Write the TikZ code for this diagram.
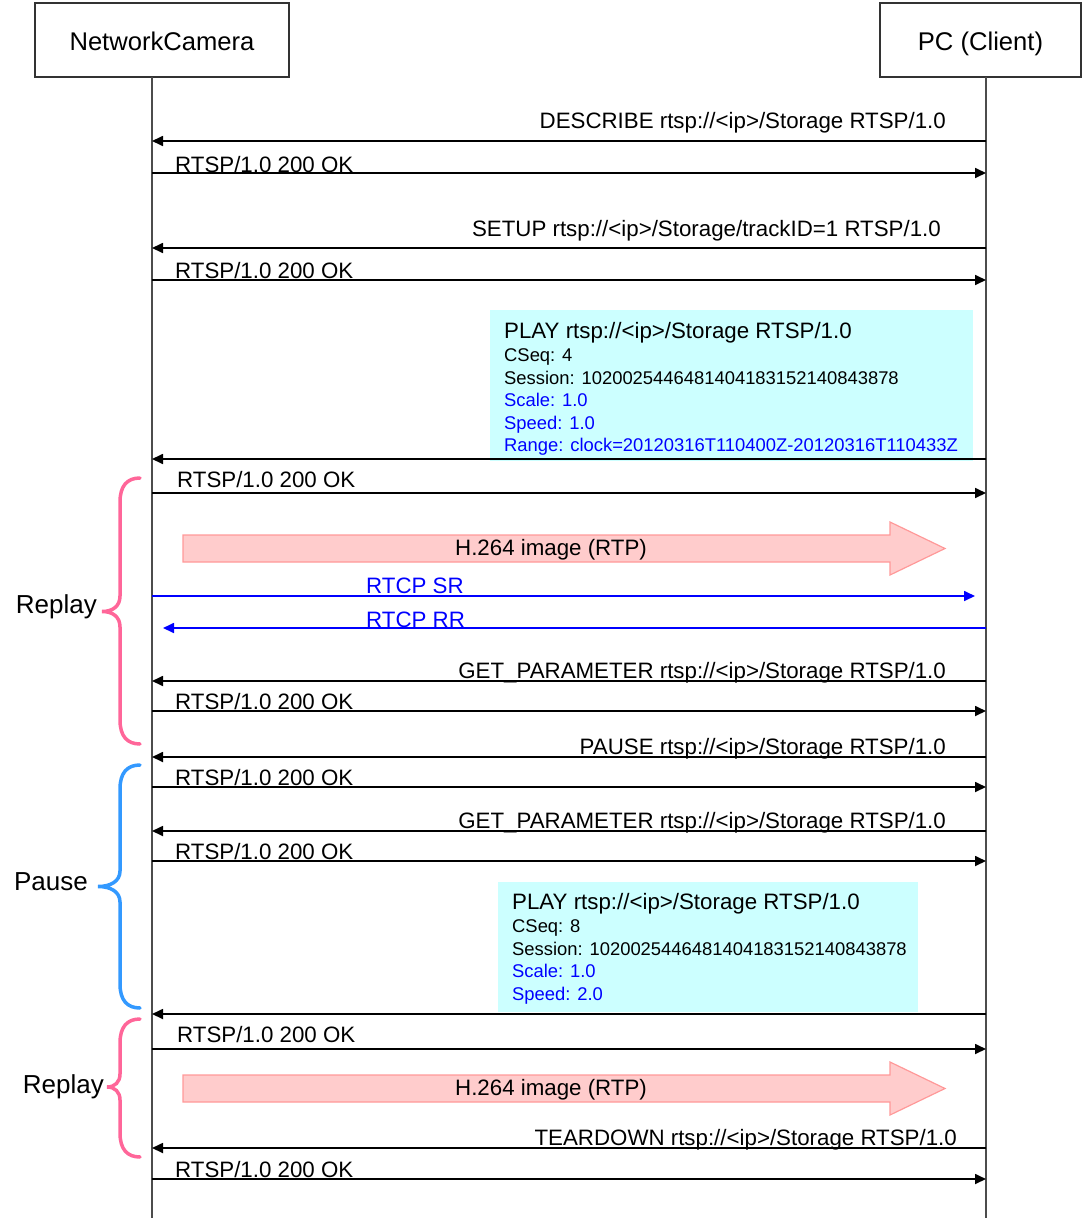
\documentclass[tikz,border=0pt]{standalone}
\usepackage{fontspec}
\setmainfont{Liberation Sans}
\usetikzlibrary{arrows.meta,positioning}
\definecolor{playcyan}{HTML}{CCFFFF}
\definecolor{rtpfill}{HTML}{FFCCCC}
\definecolor{rtpline}{HTML}{FF9999}
\definecolor{replaypink}{HTML}{FF6699}
\definecolor{pauseblue}{HTML}{3399FF}

\begin{document}
\begin{tikzpicture}[x=1pt, y=-1pt, >={Triangle[length=11pt,width=10pt]},
  actor/.style={draw=black!80, line width=1.2pt, minimum height=74pt, inner sep=0pt, text height=25pt, text depth=5pt, font=\fontsize{25.6}{30}\selectfont},
  life/.style={draw=black!70, line width=2pt},
  msg/.style={line width=1.7pt},
  rtcp/.style={line width=1.7pt, draw=blue},
  lbl/.style={inner sep=0pt, font=\fontsize{22.3}{26}\selectfont},
  playbox/.style={fill=playcyan, inner sep=0pt, anchor=north west},
  playtxt/.style={inner sep=0pt, anchor=north west, align=left, font=\fontsize{18.4}{22.6}\selectfont},
  rtp/.style={fill=rtpfill, draw=rtpline, line width=1.2pt},
  phase/.style={line width=3.5pt, line cap=round},
  phaselbl/.style={inner sep=0pt, anchor=base east, font=\fontsize{26}{30}\selectfont}]
\useasboundingbox (0,0) rectangle (1082,1218);

% actors and lifelines
\node[actor, minimum width=254pt] (cam) at (162,40) {NetworkCamera};
\node[actor, minimum width=201pt] (pc) at (980.5,40) {PC (Client)};
\coordinate (camline) at (152,77); \coordinate (camend) at (152,1218);
\coordinate (pcline) at (986,77); \coordinate (pcend) at (986,1218);
\draw[life] (camline) -- (camend); \draw[life] (pcline) -- (pcend);

% play requests with headers
\node[playbox, minimum width=483pt, minimum height=151pt] (play1) at (490,310) {};
\node[playtxt] (play1txt) at (504,322.5) {{\fontsize{22.3}{22.6}\selectfont PLAY rtsp://<ip>/Storage RTSP/1.0}\\ CSeq: 4\\ Session: 1020025446481404183152140843878\\ \textcolor{blue}{Scale: 1.0}\\ \textcolor{blue}{Speed: 1.0}\\ \textcolor{blue}{Range: clock=20120316T110400Z-20120316T110433Z}};
\node[playbox, minimum width=420pt, minimum height=130pt] (play2) at (498,882) {};
\node[playtxt] (play2txt) at (512,893.5) {{\fontsize{22.3}{22.6}\selectfont PLAY rtsp://<ip>/Storage RTSP/1.0}\\ CSeq: 8\\ Session: 1020025446481404183152140843878\\ \textcolor{blue}{Scale: 1.0}\\ \textcolor{blue}{Speed: 2.0}};
\draw[msg,->] (pcline |- 0,459) -- (camline |- 0,459);
\draw[msg,->] (pcline |- 0,1014) -- (camline |- 0,1014);

% requests from the client
\foreach \y/\ly/\xr/\txt in {141/128/946/{DESCRIBE rtsp://<ip>/Storage RTSP/1.0}, 248/236/941/{SETUP rtsp://<ip>/Storage/trackID=1 RTSP/1.0}, 681/678/946/{GET\_PARAMETER rtsp://<ip>/Storage RTSP/1.0}, 757/754/946/{PAUSE rtsp://<ip>/Storage RTSP/1.0}, 831/828/946/{GET\_PARAMETER rtsp://<ip>/Storage RTSP/1.0}, 1148/1145/957/{TEARDOWN rtsp://<ip>/Storage RTSP/1.0}}{
  \draw[msg,->] (pcline |- 0,\y) -- (camline |- 0,\y);
  \node[lbl, anchor=base east] (req\y) at (\xr,\ly) {\txt};}

% responses from the camera
\foreach \y/\ly/\lx in {173/172/175, 280/278/175, 493/487/177, 711/709/175, 787/785/175, 861/859/175, 1049/1042/177, 1179/1177/175}{
  \draw[msg,->] (camline |- 0,\y) -- (pcline |- 0,\y);
  \node[lbl, anchor=base west] (ok\y) at (\lx,\ly) {RTSP/1.0 200 OK};}

% media and rtcp
\foreach \y in {548.5,1088.5}{
  \filldraw[rtp] (183,\y-13.5) -- (890,\y-13.5) -- (890,\y-26.5) -- (945,\y) -- (890,\y+26.5) -- (890,\y+13.5) -- (183,\y+13.5) -- cycle;
  \node[lbl] (rtp\y) at (551,\y+1) {H.264 image (RTP)};}
\coordinate (srend) at (975,596); \coordinate (rrend) at (163,628);
\draw[rtcp,->] (camline |- srend) -- (srend);
\draw[rtcp,->] (pcline |- rrend) -- (rrend);
\node[lbl, anchor=base west, text=blue] (sr) at (366,593) {RTCP SR};
\node[lbl, anchor=base west, text=blue] (rr) at (366,627) {RTCP RR};

% phases
\draw[phase, replaypink] (140,478) .. controls (127,478) and (120,486) .. (120,502) -- (120,596) .. controls (120,606) and (113,611.5) .. (102,611.5) .. controls (113,611.5) and (120,617) .. (120,627) -- (120,720) .. controls (120,736) and (127,744) .. (140,744);
\draw[phase, pauseblue] (140,765) .. controls (127,765) and (120,773) .. (120,789) -- (120,871) .. controls (120,881) and (111,886.5) .. (98,886.5) .. controls (111,886.5) and (120,892) .. (120,902) -- (120,984) .. controls (120,1000) and (127,1008) .. (140,1008);
\draw[phase, replaypink] (140,1019) .. controls (127,1019) and (120,1027) .. (120,1043) -- (120,1074) .. controls (120,1082) and (115,1087) .. (107,1087) .. controls (115,1087) and (120,1092) .. (120,1100) -- (120,1133) .. controls (120,1149) and (127,1157) .. (140,1157);
\node[phaselbl] (replay1) at (97,613) {Replay};
\node[phaselbl] (pause) at (88,890) {Pause};
\node[phaselbl] (replay2) at (104,1093) {Replay};
\end{tikzpicture}
\end{document}
